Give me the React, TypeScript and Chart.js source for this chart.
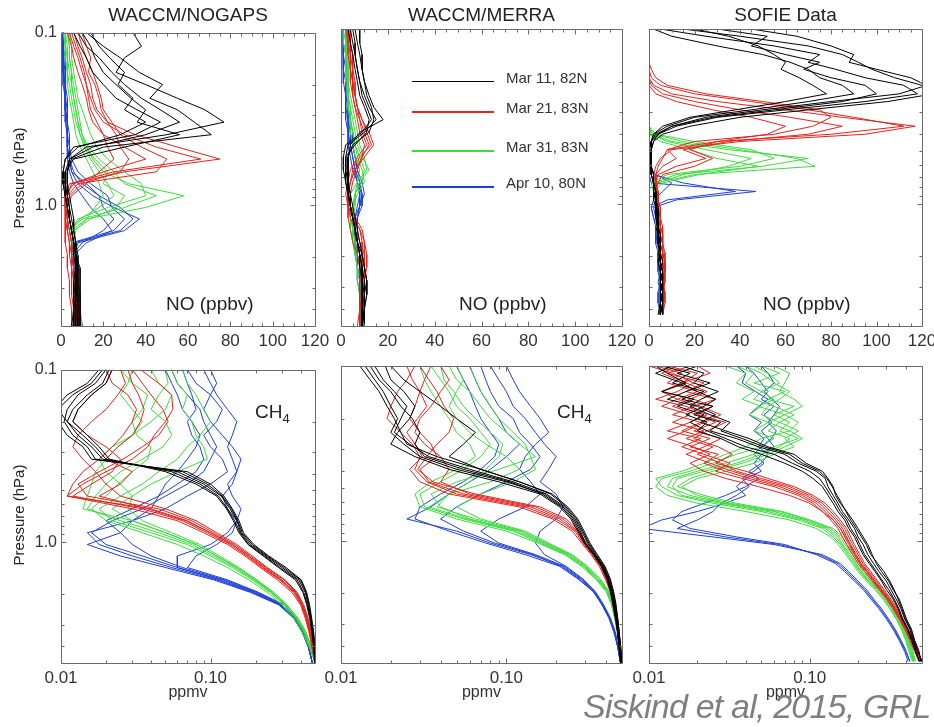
import React, { useEffect, useRef } from "react";
import { Chart, registerables } from "chart.js";

Chart.register(...registerables);

const FONT = "'Liberation Sans', Arial, Helvetica, sans-serif";

// ---------- pressure levels (hPa) ----------
const LEV_MODEL = [0.1, 0.12, 0.14, 0.17, 0.2, 0.24, 0.28, 0.33, 0.39, 0.46, 0.54, 0.64, 0.75, 0.88, 1.03, 1.2, 1.4, 1.65, 1.95, 2.3, 2.75, 3.3, 4.0, 5.0];
const LEV_SOFIE = [0.1, 0.11, 0.125, 0.14, 0.155, 0.17, 0.19, 0.21, 0.235, 0.26, 0.29, 0.32, 0.36, 0.4, 0.44, 0.49, 0.55, 0.61, 0.68, 0.76, 0.85, 0.95, 1.05, 1.2, 1.35, 1.5, 1.7, 1.9, 2.15, 2.45, 2.8, 3.2, 3.7, 4.3, 4.9];

// ---------- axis ticks ----------
const X_LIN_MAJOR = [0, 20, 40, 60, 80, 100, 120];
const X_LIN_MINOR = [5, 10, 15, 25, 30, 35, 45, 50, 55, 65, 70, 75, 85, 90, 95, 105, 110, 115];
const X_LOG_MAJOR = [0.01, 0.1];
const X_LOG_MINOR = [0.02, 0.03, 0.04, 0.05, 0.06, 0.07, 0.08, 0.09, 0.2, 0.3, 0.4];
const Y_MAJOR = [0.1, 1];
const Y_MINOR = [0.2, 0.3, 0.4, 0.5, 0.6, 0.7, 0.8, 0.9, 2, 3, 4];
const X_LIN_RANGE = [0, 120];
const X_LOG_RANGE = [0.01, 0.5];
const Y_RANGE = [0.1, 5];

const TITLES = ["WACCM/NOGAPS", "WACCM/MERRA", "SOFIE Data"];
const LEGEND_LABELS = ["Mar 11, 82N", "Mar 21, 83N", "Mar 31, 83N", "Apr 10, 80N"];
const COLORS = ["#000000", "#e3231c", "#3cdc3c", "#1e3ed6"];

// ---------- NO (ppbv), WACCM/NOGAPS ----------
const NO_NOGAPS_MAR11 = [
  [34, 38, 30, 26, 40, 55, 68, 77, 50, 12, 4, 2, 2, 3, 4, 5, 6, 7, 8, 8, 7, 7, 6, 6],
  [12, 20, 28, 37, 48, 42, 55, 63, 71, 20, 5, 3, 3, 4, 5, 6, 6, 7, 7, 7, 6, 6, 6, 5],
  [8, 12, 18, 24, 30, 38, 47, 56, 40, 15, 4, 3, 3, 3, 4, 4, 5, 6, 7, 7, 7, 6, 6, 6],
  [10, 14, 16, 20, 26, 33, 40, 36, 56, 30, 6, 2, 2, 2, 3, 4, 5, 6, 6, 7, 7, 7, 7, 7],
  [6, 9, 12, 15, 20, 26, 36, 47, 35, 6, 2, 1, 1, 2, 3, 4, 5, 6, 7, 8, 8, 8, 8, 8],
  [14, 18, 23, 30, 27, 34, 30, 40, 28, 8, 2, 1, 1, 2, 3, 4, 5, 6, 7, 9, 9, 9, 9, 9],
];
const NO_NOGAPS_MAR21 = [
  [6, 8, 10, 12, 14, 15, 17, 22, 35, 55, 75, 30, 5, 3, 3, 4, 5, 6, 7, 8, 8, 9, 9, 9],
  [4, 6, 8, 10, 12, 14, 16, 20, 30, 45, 66, 25, 4, 2, 2, 3, 4, 5, 6, 7, 7, 8, 8, 8],
  [8, 10, 12, 15, 17, 19, 20, 24, 28, 38, 50, 45, 8, 3, 3, 3, 4, 5, 5, 6, 6, 7, 7, 8],
  [3, 5, 6, 8, 10, 12, 13, 15, 20, 30, 40, 20, 6, 2, 2, 2, 3, 4, 5, 5, 6, 6, 6, 7],
  [10, 12, 14, 13, 16, 18, 19, 22, 26, 28, 32, 28, 10, 4, 3, 3, 3, 4, 4, 5, 5, 5, 6, 6],
  [5, 7, 9, 11, 12, 13, 14, 17, 20, 22, 25, 18, 12, 5, 3, 2, 2, 2, 3, 3, 4, 4, 5, 5],
];
const NO_NOGAPS_MAR31 = [
  [3, 4, 4, 5, 6, 7, 8, 9, 10, 12, 15, 20, 32, 58, 40, 12, 5, 6, 7, 8, 8, 9, 9, 9],
  [2, 3, 3, 4, 5, 6, 7, 8, 10, 13, 18, 25, 30, 45, 30, 10, 4, 5, 6, 7, 8, 8, 9, 9],
  [4, 5, 5, 6, 7, 8, 10, 12, 14, 17, 22, 30, 38, 40, 22, 8, 5, 6, 7, 7, 8, 8, 8, 8],
  [2, 2, 3, 3, 4, 5, 6, 7, 9, 12, 16, 22, 20, 30, 26, 14, 6, 5, 6, 7, 7, 8, 8, 8],
  [3, 4, 4, 5, 5, 6, 7, 8, 9, 11, 14, 18, 22, 25, 18, 9, 4, 5, 6, 7, 8, 8, 9, 10],
  [1, 2, 2, 3, 3, 4, 5, 6, 7, 9, 12, 15, 18, 20, 16, 12, 7, 6, 6, 7, 8, 8, 9, 10],
];
const NO_NOGAPS_APR10 = [
  [1, 1, 1, 2, 2, 2, 3, 3, 3, 4, 4, 5, 8, 15, 25, 37, 30, 8, 6, 7, 7, 8, 8, 8],
  [0, 1, 1, 1, 2, 2, 2, 3, 3, 3, 4, 6, 10, 18, 28, 34, 28, 6, 6, 6, 7, 7, 8, 8],
  [1, 1, 2, 2, 2, 3, 3, 3, 4, 4, 5, 8, 14, 22, 24, 30, 25, 5, 5, 6, 6, 7, 7, 7],
  [0, 0, 1, 1, 1, 2, 2, 2, 3, 3, 4, 5, 12, 18, 20, 25, 20, 10, 5, 6, 6, 7, 7, 8],
  [1, 1, 1, 1, 2, 2, 2, 3, 3, 3, 3, 4, 6, 10, 14, 20, 24, 12, 6, 6, 7, 7, 8, 8],
];

// ---------- NO (ppbv), WACCM/MERRA ----------
const NO_MERRA_MAR11 = [
  [6, 7, 8, 9, 10, 12, 14, 18, 8, 4, 3, 3, 3, 4, 4, 5, 6, 7, 8, 9, 10, 10, 10, 10],
  [4, 5, 6, 7, 8, 10, 12, 15, 10, 3, 2, 2, 3, 3, 4, 5, 6, 7, 8, 9, 9, 10, 10, 9],
  [8, 8, 9, 9, 10, 11, 13, 14, 12, 5, 3, 3, 3, 4, 5, 6, 7, 8, 9, 10, 11, 11, 10, 10],
  [3, 4, 5, 6, 7, 8, 10, 12, 11, 6, 2, 2, 2, 3, 4, 5, 6, 7, 8, 8, 9, 9, 9, 9],
  [5, 6, 6, 7, 8, 9, 11, 13, 9, 2, 1, 1, 2, 3, 4, 5, 6, 7, 9, 10, 11, 10, 10, 9],
];
const NO_MERRA_MAR21 = [
  [4, 4, 4, 5, 5, 6, 7, 9, 11, 13, 8, 5, 4, 3, 4, 6, 9, 10, 10, 10, 10, 10, 9, 9],
  [3, 3, 4, 4, 5, 5, 6, 8, 10, 12, 9, 6, 4, 3, 3, 5, 8, 10, 11, 11, 10, 10, 10, 9],
  [3, 4, 4, 4, 5, 6, 7, 8, 9, 11, 7, 4, 3, 2, 3, 5, 8, 9, 9, 9, 9, 9, 8, 8],
  [4, 4, 5, 5, 6, 6, 7, 9, 12, 14, 10, 6, 4, 3, 3, 4, 6, 8, 10, 10, 11, 11, 10, 10],
  [2, 3, 3, 4, 4, 5, 6, 7, 8, 10, 9, 7, 5, 4, 3, 3, 4, 5, 7, 8, 8, 8, 8, 7],
];
const NO_MERRA_MAR31 = [
  [2, 2, 2, 3, 3, 3, 4, 5, 6, 7, 9, 12, 8, 6, 5, 5, 6, 7, 8, 9, 10, 10, 10, 10],
  [1, 2, 2, 2, 3, 3, 4, 4, 5, 6, 8, 10, 9, 6, 5, 5, 5, 6, 7, 8, 9, 9, 9, 9],
  [2, 2, 3, 3, 3, 4, 5, 6, 7, 8, 10, 11, 7, 4, 4, 4, 5, 6, 6, 7, 8, 8, 9, 9],
  [1, 1, 2, 2, 2, 3, 3, 4, 5, 6, 7, 9, 10, 7, 5, 4, 4, 5, 6, 7, 8, 9, 10, 10],
  [2, 2, 2, 2, 3, 3, 3, 4, 4, 5, 6, 8, 7, 6, 6, 5, 5, 5, 6, 7, 7, 8, 8, 8],
];
const NO_MERRA_APR10 = [
  [1, 1, 2, 2, 2, 3, 3, 4, 4, 5, 6, 7, 9, 10, 8, 7, 6, 6, 7, 7, 8, 8, 8, 8],
  [1, 1, 1, 2, 2, 2, 3, 3, 4, 4, 5, 6, 8, 9, 9, 7, 6, 6, 6, 7, 7, 8, 8, 8],
  [2, 2, 2, 2, 3, 3, 3, 4, 5, 5, 6, 7, 8, 8, 7, 6, 6, 7, 7, 8, 8, 9, 9, 9],
  [1, 1, 1, 1, 2, 2, 2, 3, 3, 4, 5, 6, 7, 8, 8, 7, 7, 7, 7, 8, 8, 8, 9, 9],
  [0, 1, 1, 1, 1, 2, 2, 2, 3, 3, 4, 5, 7, 9, 8, 6, 6, 6, 7, 7, 8, 8, 8, 8],
];

// ---------- NO (ppbv), SOFIE ----------
const NO_SOFIE_MAR11 = [
  [15, 40, 70, 85, 92, 98, 108, 120, 125, 105, 70, 40, 18, 6, 2, 1, 1, 1, 2, 2, 2, 3, 3, 4, 4, 5, 4, 5, 5, 6, 5, 6, 5, 5],
  [5, 25, 55, 75, 70, 82, 95, 112, 118, 95, 60, 30, 12, 4, 1, 0, 1, 1, 1, 2, 2, 2, 3, 3, 4, 4, 5, 5, 4, 5, 6, 5, 5, 4],
  [30, 52, 45, 60, 75, 68, 80, 95, 100, 85, 55, 28, 10, 3, 1, 1, 0, 1, 1, 2, 3, 3, 3, 4, 3, 4, 4, 5, 5, 5, 6, 6, 5, 5],
  [2, 10, 30, 50, 62, 70, 75, 85, 90, 70, 45, 20, 8, 2, 1, 0, 0, 1, 2, 2, 2, 3, 4, 4, 4, 5, 5, 4, 5, 6, 6, 5, 6, 5],
  [45, 65, 80, 90, 88, 100, 115, 122, 110, 80, 50, 25, 10, 4, 2, 1, 1, 1, 1, 2, 2, 3, 3, 3, 4, 4, 5, 5, 6, 5, 5, 6, 6, 6],
  [20, 35, 48, 55, 60, 58, 66, 72, 78, 60, 38, 18, 6, 2, 1, 0, 1, 1, 1, 2, 3, 3, 3, 4, 4, 4, 4, 5, 5, 6, 5, 5, 6, 5],
];
const NO_SOFIE_MAR21 = [
  [0, 0, 0, 0, 0, 0, 0, 2, 10, 30, 60, 85, 117, 95, 40, 10, 5, 3, 2, 3, 3, 4, 4, 5, 5, 6, 5, 6, 6, 7, 6, 7, 6, 6],
  [0, 0, 0, 0, 0, 0, 1, 5, 20, 45, 70, 90, 112, 80, 30, 8, 6, 4, 3, 3, 4, 4, 5, 5, 5, 6, 6, 6, 7, 7, 6, 6, 6, 5],
  [0, 0, 0, 0, 0, 0, 0, 1, 6, 20, 40, 62, 85, 70, 35, 15, 25, 12, 4, 3, 3, 4, 4, 4, 5, 5, 6, 6, 6, 6, 7, 6, 6, 6],
  [0, 0, 0, 0, 0, 0, 0, 0, 3, 12, 28, 45, 60, 52, 30, 18, 28, 20, 6, 4, 3, 3, 4, 5, 5, 5, 5, 6, 7, 6, 6, 7, 7, 6],
  [0, 0, 0, 0, 0, 1, 3, 8, 25, 50, 75, 80, 72, 55, 20, 8, 12, 6, 3, 3, 4, 4, 5, 5, 6, 6, 6, 7, 7, 7, 7, 6, 6, 6],
];
const NO_SOFIE_MAR31 = [
  [0, 0, 0, 0, 0, 0, 0, 0, 0, 0, 0, 0, 0, 2, 15, 40, 65, 73, 20, 3, 2, 3, 3, 4, 4, 5, 5, 5, 6, 6, 6, 5, 6, 5],
  [0, 0, 0, 0, 0, 0, 0, 0, 0, 0, 0, 0, 0, 1, 10, 35, 70, 50, 12, 2, 2, 3, 3, 3, 4, 4, 5, 5, 5, 6, 5, 5, 5, 5],
  [0, 0, 0, 0, 0, 0, 0, 0, 0, 0, 0, 0, 0, 3, 20, 45, 55, 40, 8, 1, 2, 2, 3, 3, 4, 4, 4, 5, 5, 5, 6, 6, 5, 5],
  [0, 0, 0, 0, 0, 0, 0, 0, 0, 0, 0, 0, 0, 1, 8, 25, 45, 35, 15, 4, 2, 2, 3, 3, 3, 4, 4, 4, 5, 5, 5, 5, 5, 4],
  [0, 0, 0, 0, 0, 0, 0, 0, 0, 0, 0, 0, 0, 0, 5, 18, 30, 48, 22, 6, 2, 3, 3, 4, 4, 4, 5, 5, 5, 6, 6, 6, 6, 5],
];
const NO_SOFIE_APR10 = [
  [0, 0, 0, 0, 0, 0, 0, 0, 0, 0, 0, 0, 0, 0, 0, 0, 0, 0, 0, 1, 47, 12, 2, 3, 3, 4, 4, 4, 5, 5, 5, 5, 5, 5],
  [0, 0, 0, 0, 0, 0, 0, 0, 0, 0, 0, 0, 0, 0, 0, 0, 0, 0, 2, 15, 38, 8, 1, 2, 3, 3, 4, 4, 4, 5, 4, 5, 5, 5],
  [0, 0, 0, 0, 0, 0, 0, 0, 0, 0, 0, 0, 0, 0, 0, 0, 0, 0, 3, 10, 6, 2, 1, 2, 3, 3, 3, 4, 4, 4, 5, 4, 4, 5],
];

// ---------- CH4 (ppmv), WACCM/NOGAPS ----------
const CH4_NOGAPS_MAR11 = [
  [0.021, 0.019, 0.015, 0.012, 0.011, 0.013, 0.016, 0.019, 0.06, 0.09, 0.118, 0.135, 0.15, 0.16, 0.185, 0.235, 0.3, 0.39, 0.43, 0.45, 0.47, 0.48, 0.49, 0.5],
  [0.019, 0.016, 0.012, 0.0095, 0.011, 0.014, 0.017, 0.02, 0.055, 0.085, 0.113, 0.13, 0.145, 0.158, 0.18, 0.23, 0.29, 0.38, 0.42, 0.445, 0.465, 0.48, 0.49, 0.5],
  [0.02, 0.017, 0.013, 0.011, 0.0105, 0.012, 0.015, 0.017, 0.065, 0.095, 0.12, 0.138, 0.152, 0.163, 0.19, 0.24, 0.31, 0.4, 0.435, 0.455, 0.47, 0.485, 0.495, 0.5],
  [0.022, 0.02, 0.016, 0.013, 0.012, 0.015, 0.018, 0.021, 0.05, 0.08, 0.11, 0.128, 0.142, 0.155, 0.178, 0.225, 0.285, 0.37, 0.415, 0.44, 0.46, 0.475, 0.49, 0.5],
  [0.018, 0.015, 0.011, 0.009, 0.0095, 0.011, 0.014, 0.016, 0.07, 0.1, 0.123, 0.14, 0.155, 0.166, 0.195, 0.245, 0.32, 0.405, 0.44, 0.46, 0.475, 0.49, 0.5, 0.5],
];
const CH4_NOGAPS_MAR21 = [
  [0.034, 0.045, 0.055, 0.056, 0.05, 0.042, 0.038, 0.03, 0.02, 0.014, 0.011, 0.04, 0.07, 0.1, 0.14, 0.18, 0.23, 0.3, 0.37, 0.41, 0.44, 0.46, 0.48, 0.5],
  [0.022, 0.02, 0.016, 0.013, 0.012, 0.015, 0.02, 0.025, 0.022, 0.016, 0.012, 0.035, 0.065, 0.095, 0.135, 0.175, 0.22, 0.29, 0.36, 0.405, 0.435, 0.46, 0.48, 0.5],
  [0.03, 0.035, 0.04, 0.048, 0.052, 0.045, 0.035, 0.026, 0.018, 0.013, 0.015, 0.045, 0.075, 0.105, 0.145, 0.185, 0.235, 0.31, 0.375, 0.415, 0.445, 0.465, 0.485, 0.5],
  [0.025, 0.027, 0.024, 0.02, 0.016, 0.013, 0.012, 0.014, 0.017, 0.02, 0.025, 0.05, 0.08, 0.11, 0.15, 0.19, 0.24, 0.315, 0.38, 0.42, 0.45, 0.47, 0.485, 0.5],
  [0.02, 0.022, 0.028, 0.032, 0.03, 0.026, 0.022, 0.018, 0.014, 0.012, 0.011, 0.03, 0.06, 0.09, 0.13, 0.17, 0.215, 0.28, 0.35, 0.4, 0.43, 0.455, 0.475, 0.5],
  [0.028, 0.03, 0.033, 0.036, 0.034, 0.03, 0.024, 0.02, 0.03, 0.025, 0.018, 0.038, 0.068, 0.1, 0.14, 0.18, 0.225, 0.295, 0.365, 0.41, 0.44, 0.46, 0.48, 0.5],
];
const CH4_NOGAPS_MAR31 = [
  [0.05, 0.052, 0.045, 0.04, 0.05, 0.055, 0.048, 0.035, 0.025, 0.02, 0.017, 0.015, 0.025, 0.045, 0.075, 0.105, 0.145, 0.195, 0.255, 0.315, 0.375, 0.425, 0.465, 0.5],
  [0.03, 0.028, 0.025, 0.03, 0.035, 0.03, 0.024, 0.02, 0.017, 0.016, 0.015, 0.014, 0.03, 0.05, 0.08, 0.11, 0.15, 0.2, 0.26, 0.32, 0.38, 0.43, 0.47, 0.5],
  [0.065, 0.07, 0.08, 0.09, 0.1, 0.085, 0.07, 0.06, 0.045, 0.035, 0.025, 0.018, 0.022, 0.04, 0.07, 0.1, 0.14, 0.19, 0.25, 0.31, 0.37, 0.42, 0.46, 0.5],
  [0.04, 0.045, 0.055, 0.05, 0.04, 0.03, 0.022, 0.018, 0.02, 0.025, 0.03, 0.028, 0.035, 0.055, 0.085, 0.115, 0.155, 0.205, 0.265, 0.325, 0.385, 0.435, 0.47, 0.5],
  [0.025, 0.03, 0.038, 0.035, 0.03, 0.032, 0.04, 0.038, 0.03, 0.024, 0.02, 0.016, 0.02, 0.035, 0.06, 0.09, 0.13, 0.18, 0.24, 0.3, 0.36, 0.41, 0.455, 0.5],
  [0.055, 0.06, 0.07, 0.065, 0.075, 0.08, 0.09, 0.095, 0.06, 0.04, 0.03, 0.022, 0.03, 0.05, 0.08, 0.11, 0.15, 0.2, 0.26, 0.32, 0.38, 0.43, 0.47, 0.5],
];
const CH4_NOGAPS_APR10 = [
  [0.07, 0.08, 0.1, 0.12, 0.11, 0.09, 0.1, 0.12, 0.13, 0.1, 0.07, 0.05, 0.03, 0.015, 0.018, 0.03, 0.055, 0.11, 0.19, 0.29, 0.36, 0.41, 0.45, 0.48],
  [0.055, 0.06, 0.07, 0.085, 0.09, 0.1, 0.11, 0.1, 0.09, 0.07, 0.05, 0.035, 0.022, 0.016, 0.02, 0.035, 0.06, 0.12, 0.2, 0.3, 0.37, 0.42, 0.455, 0.48],
  [0.09, 0.1, 0.11, 0.13, 0.15, 0.14, 0.13, 0.14, 0.15, 0.14, 0.12, 0.13, 0.15, 0.14, 0.11, 0.08, 0.07, 0.13, 0.21, 0.31, 0.375, 0.42, 0.455, 0.48],
  [0.065, 0.07, 0.075, 0.08, 0.07, 0.075, 0.085, 0.09, 0.08, 0.06, 0.045, 0.03, 0.02, 0.025, 0.03, 0.04, 0.065, 0.125, 0.205, 0.3, 0.37, 0.415, 0.45, 0.48],
  [0.1, 0.11, 0.1, 0.09, 0.1, 0.12, 0.14, 0.16, 0.15, 0.13, 0.14, 0.16, 0.15, 0.13, 0.1, 0.06, 0.06, 0.115, 0.195, 0.295, 0.365, 0.41, 0.45, 0.48],
  [0.05, 0.055, 0.06, 0.065, 0.075, 0.085, 0.08, 0.07, 0.06, 0.05, 0.045, 0.04, 0.03, 0.025, 0.015, 0.025, 0.05, 0.105, 0.185, 0.285, 0.36, 0.41, 0.45, 0.48],
];

// ---------- CH4 (ppmv), WACCM/MERRA ----------
const CH4_MERRA_MAR11 = [
  [0.014, 0.016, 0.018, 0.02, 0.022, 0.02, 0.024, 0.03, 0.05, 0.1, 0.17, 0.22, 0.255, 0.28, 0.3, 0.34, 0.38, 0.41, 0.43, 0.445, 0.46, 0.47, 0.48, 0.49],
  [0.016, 0.018, 0.021, 0.025, 0.023, 0.021, 0.026, 0.034, 0.06, 0.11, 0.175, 0.225, 0.26, 0.285, 0.31, 0.345, 0.385, 0.415, 0.435, 0.45, 0.465, 0.475, 0.485, 0.495],
  [0.0185, 0.02, 0.024, 0.028, 0.026, 0.022, 0.02, 0.028, 0.045, 0.09, 0.16, 0.21, 0.245, 0.27, 0.295, 0.335, 0.375, 0.405, 0.425, 0.44, 0.455, 0.47, 0.48, 0.49],
  [0.013, 0.015, 0.017, 0.019, 0.021, 0.023, 0.025, 0.038, 0.07, 0.12, 0.185, 0.23, 0.265, 0.29, 0.315, 0.35, 0.39, 0.42, 0.44, 0.455, 0.47, 0.48, 0.49, 0.5],
  [0.015, 0.017, 0.02, 0.023, 0.027, 0.03, 0.028, 0.032, 0.055, 0.105, 0.165, 0.215, 0.25, 0.275, 0.3, 0.34, 0.38, 0.41, 0.43, 0.445, 0.46, 0.47, 0.48, 0.49],
  [0.02, 0.024, 0.03, 0.04, 0.05, 0.065, 0.055, 0.045, 0.07, 0.12, 0.19, 0.235, 0.27, 0.295, 0.32, 0.355, 0.395, 0.425, 0.445, 0.46, 0.47, 0.48, 0.49, 0.5],
];
const CH4_MERRA_MAR21 = [
  [0.028, 0.025, 0.022, 0.02, 0.019, 0.023, 0.027, 0.03, 0.028, 0.033, 0.05, 0.13, 0.2, 0.26, 0.29, 0.33, 0.37, 0.4, 0.43, 0.445, 0.46, 0.47, 0.48, 0.49],
  [0.035, 0.032, 0.03, 0.028, 0.026, 0.03, 0.035, 0.038, 0.03, 0.034, 0.055, 0.14, 0.21, 0.265, 0.295, 0.335, 0.375, 0.405, 0.435, 0.45, 0.465, 0.475, 0.485, 0.495],
  [0.04, 0.045, 0.04, 0.035, 0.03, 0.028, 0.032, 0.04, 0.045, 0.04, 0.06, 0.15, 0.22, 0.27, 0.3, 0.34, 0.38, 0.41, 0.44, 0.455, 0.47, 0.48, 0.49, 0.5],
  [0.025, 0.027, 0.03, 0.033, 0.029, 0.025, 0.028, 0.031, 0.026, 0.03, 0.045, 0.12, 0.19, 0.25, 0.285, 0.325, 0.365, 0.395, 0.425, 0.44, 0.455, 0.47, 0.48, 0.49],
  [0.03, 0.034, 0.038, 0.042, 0.048, 0.045, 0.038, 0.033, 0.029, 0.036, 0.065, 0.16, 0.23, 0.275, 0.305, 0.345, 0.385, 0.415, 0.44, 0.455, 0.465, 0.475, 0.485, 0.495],
];
const CH4_MERRA_MAR31 = [
  [0.045, 0.05, 0.06, 0.07, 0.08, 0.1, 0.12, 0.15, 0.09, 0.05, 0.035, 0.04, 0.06, 0.12, 0.17, 0.24, 0.3, 0.36, 0.41, 0.44, 0.46, 0.47, 0.48, 0.49],
  [0.035, 0.04, 0.045, 0.05, 0.06, 0.07, 0.08, 0.07, 0.055, 0.04, 0.03, 0.032, 0.055, 0.11, 0.16, 0.23, 0.29, 0.35, 0.405, 0.435, 0.455, 0.47, 0.48, 0.49],
  [0.05, 0.055, 0.05, 0.045, 0.05, 0.06, 0.075, 0.1, 0.12, 0.08, 0.045, 0.038, 0.065, 0.125, 0.175, 0.245, 0.305, 0.365, 0.415, 0.445, 0.46, 0.475, 0.485, 0.495],
  [0.03, 0.032, 0.035, 0.04, 0.045, 0.05, 0.06, 0.065, 0.05, 0.035, 0.028, 0.03, 0.05, 0.1, 0.155, 0.225, 0.285, 0.345, 0.4, 0.43, 0.45, 0.465, 0.48, 0.49],
  [0.06, 0.065, 0.07, 0.08, 0.09, 0.11, 0.13, 0.14, 0.15, 0.11, 0.07, 0.05, 0.07, 0.13, 0.18, 0.25, 0.31, 0.37, 0.42, 0.445, 0.465, 0.475, 0.485, 0.495],
  [0.04, 0.042, 0.048, 0.055, 0.065, 0.08, 0.095, 0.09, 0.075, 0.06, 0.045, 0.034, 0.058, 0.115, 0.165, 0.235, 0.295, 0.355, 0.41, 0.44, 0.455, 0.47, 0.48, 0.49],
];
const CH4_MERRA_APR10 = [
  [0.06, 0.065, 0.07, 0.08, 0.09, 0.1, 0.12, 0.1, 0.08, 0.06, 0.045, 0.035, 0.025, 0.05, 0.08, 0.14, 0.22, 0.28, 0.34, 0.38, 0.42, 0.45, 0.47, 0.49],
  [0.08, 0.09, 0.1, 0.11, 0.13, 0.15, 0.17, 0.2, 0.18, 0.16, 0.2, 0.22, 0.2, 0.16, 0.15, 0.17, 0.23, 0.29, 0.345, 0.385, 0.425, 0.455, 0.475, 0.49],
  [0.05, 0.055, 0.06, 0.065, 0.07, 0.08, 0.09, 0.085, 0.07, 0.055, 0.04, 0.03, 0.028, 0.045, 0.075, 0.13, 0.21, 0.27, 0.335, 0.375, 0.415, 0.445, 0.47, 0.49],
  [0.1, 0.11, 0.12, 0.14, 0.16, 0.18, 0.15, 0.13, 0.12, 0.14, 0.16, 0.13, 0.09, 0.07, 0.09, 0.15, 0.225, 0.285, 0.34, 0.38, 0.42, 0.45, 0.47, 0.49],
  [0.07, 0.075, 0.08, 0.09, 0.11, 0.12, 0.14, 0.16, 0.14, 0.1, 0.07, 0.05, 0.04, 0.055, 0.085, 0.145, 0.215, 0.275, 0.335, 0.38, 0.42, 0.45, 0.47, 0.49],
];

// ---------- CH4 (ppmv), SOFIE ----------
const CH4_SOFIE_MAR11 = [
  [0.012, 0.018, 0.014, 0.022, 0.016, 0.025, 0.019, 0.028, 0.024, 0.035, 0.048, 0.07, 0.085, 0.11, 0.125, 0.13, 0.14, 0.15, 0.16, 0.175, 0.19, 0.2, 0.215, 0.23, 0.25, 0.27, 0.3, 0.32, 0.345, 0.37, 0.39, 0.42, 0.44, 0.47, 0.5],
  [0.02, 0.015, 0.024, 0.017, 0.013, 0.02, 0.026, 0.021, 0.03, 0.042, 0.055, 0.08, 0.095, 0.12, 0.13, 0.14, 0.145, 0.155, 0.17, 0.185, 0.2, 0.215, 0.23, 0.245, 0.26, 0.28, 0.31, 0.33, 0.36, 0.38, 0.4, 0.43, 0.45, 0.48, 0.49],
  [0.011, 0.013, 0.017, 0.012, 0.019, 0.015, 0.022, 0.018, 0.023, 0.03, 0.04, 0.06, 0.078, 0.1, 0.115, 0.125, 0.135, 0.145, 0.155, 0.17, 0.18, 0.195, 0.205, 0.22, 0.24, 0.26, 0.285, 0.31, 0.335, 0.36, 0.38, 0.41, 0.435, 0.46, 0.48],
  [0.016, 0.022, 0.019, 0.027, 0.021, 0.018, 0.024, 0.032, 0.028, 0.038, 0.052, 0.075, 0.09, 0.115, 0.128, 0.138, 0.148, 0.158, 0.168, 0.18, 0.195, 0.21, 0.225, 0.24, 0.265, 0.29, 0.315, 0.335, 0.355, 0.375, 0.395, 0.425, 0.445, 0.475, 0.5],
  [0.014, 0.011, 0.016, 0.02, 0.026, 0.022, 0.017, 0.023, 0.02, 0.028, 0.036, 0.05, 0.07, 0.09, 0.105, 0.12, 0.13, 0.14, 0.15, 0.165, 0.175, 0.19, 0.2, 0.215, 0.235, 0.255, 0.28, 0.3, 0.33, 0.355, 0.375, 0.405, 0.43, 0.455, 0.48],
];
const CH4_SOFIE_MAR21 = [
  [0.011, 0.016, 0.013, 0.02, 0.015, 0.012, 0.018, 0.014, 0.022, 0.017, 0.025, 0.02, 0.028, 0.035, 0.05, 0.075, 0.1, 0.12, 0.135, 0.15, 0.165, 0.175, 0.185, 0.2, 0.215, 0.235, 0.26, 0.285, 0.315, 0.345, 0.375, 0.405, 0.435, 0.465, 0.49],
  [0.018, 0.013, 0.022, 0.017, 0.026, 0.019, 0.014, 0.021, 0.016, 0.024, 0.018, 0.027, 0.022, 0.03, 0.042, 0.065, 0.09, 0.11, 0.125, 0.14, 0.155, 0.165, 0.175, 0.19, 0.205, 0.225, 0.25, 0.275, 0.305, 0.335, 0.365, 0.395, 0.425, 0.455, 0.485],
  [0.013, 0.02, 0.016, 0.012, 0.019, 0.025, 0.02, 0.03, 0.023, 0.019, 0.027, 0.033, 0.026, 0.04, 0.055, 0.08, 0.105, 0.125, 0.14, 0.155, 0.17, 0.18, 0.19, 0.205, 0.22, 0.24, 0.265, 0.29, 0.32, 0.35, 0.38, 0.41, 0.44, 0.47, 0.5],
  [0.01, 0.014, 0.019, 0.015, 0.011, 0.017, 0.023, 0.018, 0.013, 0.021, 0.016, 0.022, 0.032, 0.026, 0.038, 0.06, 0.085, 0.105, 0.12, 0.135, 0.15, 0.16, 0.17, 0.185, 0.2, 0.22, 0.245, 0.27, 0.3, 0.33, 0.36, 0.39, 0.42, 0.45, 0.48],
  [0.015, 0.012, 0.017, 0.023, 0.018, 0.014, 0.02, 0.026, 0.019, 0.028, 0.022, 0.017, 0.024, 0.033, 0.046, 0.07, 0.095, 0.115, 0.13, 0.145, 0.16, 0.17, 0.18, 0.195, 0.21, 0.23, 0.255, 0.28, 0.31, 0.34, 0.37, 0.4, 0.43, 0.46, 0.495],
  [0.02, 0.024, 0.016, 0.012, 0.015, 0.021, 0.028, 0.022, 0.017, 0.013, 0.019, 0.024, 0.018, 0.022, 0.03, 0.048, 0.075, 0.1, 0.12, 0.14, 0.155, 0.168, 0.178, 0.192, 0.208, 0.228, 0.252, 0.278, 0.308, 0.338, 0.368, 0.398, 0.428, 0.458, 0.49],
];
const CH4_SOFIE_MAR31 = [
  [0.05, 0.065, 0.045, 0.07, 0.055, 0.08, 0.06, 0.075, 0.065, 0.085, 0.06, 0.045, 0.03, 0.02, 0.014, 0.013, 0.018, 0.03, 0.06, 0.095, 0.13, 0.15, 0.16, 0.18, 0.195, 0.21, 0.235, 0.27, 0.3, 0.33, 0.36, 0.385, 0.41, 0.43, 0.445],
  [0.035, 0.045, 0.04, 0.05, 0.06, 0.048, 0.07, 0.055, 0.075, 0.05, 0.04, 0.03, 0.022, 0.016, 0.011, 0.012, 0.015, 0.025, 0.05, 0.085, 0.12, 0.14, 0.155, 0.172, 0.188, 0.205, 0.23, 0.26, 0.29, 0.32, 0.35, 0.375, 0.4, 0.42, 0.44],
  [0.06, 0.075, 0.07, 0.065, 0.08, 0.09, 0.07, 0.085, 0.075, 0.09, 0.07, 0.055, 0.038, 0.025, 0.018, 0.015, 0.022, 0.035, 0.068, 0.1, 0.135, 0.155, 0.165, 0.185, 0.2, 0.215, 0.24, 0.275, 0.305, 0.335, 0.365, 0.39, 0.415, 0.435, 0.45],
  [0.03, 0.04, 0.035, 0.045, 0.038, 0.05, 0.042, 0.055, 0.045, 0.06, 0.05, 0.035, 0.025, 0.018, 0.012, 0.011, 0.013, 0.02, 0.04, 0.075, 0.11, 0.135, 0.15, 0.168, 0.184, 0.2, 0.225, 0.255, 0.285, 0.315, 0.345, 0.37, 0.395, 0.415, 0.435],
  [0.045, 0.055, 0.065, 0.05, 0.045, 0.06, 0.08, 0.065, 0.085, 0.07, 0.08, 0.06, 0.045, 0.03, 0.02, 0.016, 0.02, 0.032, 0.065, 0.1, 0.14, 0.16, 0.17, 0.19, 0.205, 0.22, 0.245, 0.28, 0.31, 0.34, 0.37, 0.395, 0.42, 0.44, 0.455],
  [0.04, 0.05, 0.06, 0.075, 0.065, 0.055, 0.05, 0.065, 0.055, 0.075, 0.065, 0.05, 0.035, 0.022, 0.015, 0.014, 0.016, 0.028, 0.055, 0.09, 0.125, 0.145, 0.158, 0.176, 0.192, 0.208, 0.232, 0.265, 0.295, 0.325, 0.355, 0.38, 0.405, 0.425, 0.445],
];
const CH4_SOFIE_APR10 = [
  [0.04, 0.045, 0.05, 0.055, 0.05, 0.06, 0.052, 0.058, 0.05, 0.055, 0.06, 0.05, 0.045, 0.05, 0.04, 0.035, 0.04, 0.03, 0.02, 0.012, 0.009, 0.025, 0.06, 0.12, 0.155, 0.175, 0.2, 0.225, 0.25, 0.28, 0.31, 0.34, 0.37, 0.4, 0.42],
  [0.035, 0.04, 0.038, 0.046, 0.055, 0.048, 0.042, 0.05, 0.045, 0.052, 0.048, 0.055, 0.05, 0.042, 0.048, 0.04, 0.03, 0.022, 0.016, 0.014, 0.018, 0.035, 0.07, 0.11, 0.145, 0.165, 0.19, 0.215, 0.24, 0.27, 0.3, 0.33, 0.36, 0.39, 0.41],
  [0.05, 0.055, 0.06, 0.052, 0.058, 0.065, 0.06, 0.055, 0.062, 0.058, 0.05, 0.045, 0.052, 0.045, 0.038, 0.042, 0.035, 0.028, 0.025, 0.02, 0.015, 0.03, 0.065, 0.115, 0.15, 0.17, 0.195, 0.22, 0.245, 0.275, 0.305, 0.335, 0.365, 0.395, 0.42],
];

// ---------- layout ----------
const COL_X = [[61, 315], [341, 622], [649, 922]];
const ROW_Y = [[29, 326], [366, 663]];
const PAD_L = 55;
const PAD_R = 22;
const PAD_T = 10;
const PAD_B = 32;
const FRAME_COLOR = "#6a6a6a";
const TICK_COLOR = "#333333";

type PanelProps = {
  col: number;
  row: number;
  xLog: boolean;
  showY: boolean;
  levels: number[];
  groups: number[][][];
};

function Panel({ col, row, xLog, showY, levels, groups }: PanelProps) {
  const ref = useRef<HTMLCanvasElement>(null);
  const [x0, x1] = COL_X[col];
  const [y0, y1] = ROW_Y[row];
  const w = x1 - x0 + PAD_L + PAD_R;
  const h = y1 - y0 + PAD_T + PAD_B;

  useEffect(() => {
    const datasets: any[] = [];
    groups.forEach((rows, gi) => {
      rows.forEach((vals) => {
        datasets.push({
          data: vals.filter((_, i) => i < levels.length).map((v, i) => ({ x: v, y: levels[i] })),
          showLine: true,
          borderColor: COLORS[gi],
          backgroundColor: COLORS[gi],
          borderWidth: 1,
          pointRadius: 0,
          pointHoverRadius: 0,
          tension: 0,
          fill: false,
        });
      });
    });
    const xMaj = xLog ? X_LOG_MAJOR : X_LIN_MAJOR;
    const xMin = xLog ? X_LOG_MINOR : X_LIN_MINOR;
    const frame = {
      id: "frame",
      afterDatasetsDraw(chart: any) {
        const { ctx, chartArea: a } = chart;
        const xs = chart.scales.x;
        const ys = chart.scales.y;
        const L = Math.round(a.left) + 0.5;
        const R = Math.round(a.right) + 0.5;
        const T = Math.round(a.top) + 0.5;
        const B = Math.round(a.bottom) + 0.5;
        ctx.save();
        ctx.strokeStyle = FRAME_COLOR;
        ctx.lineWidth = 1;
        ctx.beginPath();
        ctx.rect(L, T, R - L, B - T);
        const xt = (vals: number[], len: number) => {
          vals.forEach((v) => {
            const p = Math.round(xs.getPixelForValue(v)) + 0.5;
            ctx.moveTo(p, B);
            ctx.lineTo(p, B - len);
            ctx.moveTo(p, T);
            ctx.lineTo(p, T + len);
          });
        };
        const yt = (vals: number[], len: number) => {
          vals.forEach((v) => {
            const p = Math.round(ys.getPixelForValue(v)) + 0.5;
            ctx.moveTo(L, p);
            ctx.lineTo(L + len, p);
            ctx.moveTo(R, p);
            ctx.lineTo(R - len, p);
          });
        };
        xt(xMaj, 5);
        xt(xMin, 3);
        yt(Y_MAJOR, 5);
        yt(Y_MINOR, 3);
        ctx.stroke();
        ctx.restore();
      },
    };
    const chart = new Chart(ref.current as HTMLCanvasElement, {
      type: "scatter",
      data: { datasets },
      options: {
        animation: false,
        responsive: false,
        devicePixelRatio: 1,
        events: [],
        layout: { padding: { left: 0, right: PAD_R, top: PAD_T, bottom: 0 } },
        plugins: { legend: { display: false }, tooltip: { enabled: false }, title: { display: false } },
        scales: {
          x: {
            type: xLog ? "logarithmic" : "linear",
            position: "bottom",
            min: xLog ? X_LOG_RANGE[0] : X_LIN_RANGE[0],
            max: xLog ? X_LOG_RANGE[1] : X_LIN_RANGE[1],
            grid: { display: false, drawTicks: false },
            border: { display: false },
            ticks: {
              autoSkip: false,
              maxRotation: 0,
              padding: 5,
              color: TICK_COLOR,
              font: { family: FONT, size: 17 },
              stepSize: 20,
              callback: (v: any) => (xLog ? Number(v).toFixed(2) : String(v)),
            },
            afterBuildTicks: (s: any) => {
              s.ticks = xMaj.map((v) => ({ value: v }));
            },
            afterFit: (s: any) => {
              s.height = PAD_B;
            },
          },
          y: {
            type: "logarithmic",
            position: "left",
            reverse: true,
            min: Y_RANGE[0],
            max: Y_RANGE[1],
            grid: { display: false, drawTicks: false },
            border: { display: false },
            ticks: {
              display: showY,
              autoSkip: false,
              padding: 4,
              color: TICK_COLOR,
              font: { family: FONT, size: 16 },
              callback: (v: any) => Number(v).toFixed(1),
            },
            afterBuildTicks: (s: any) => {
              s.ticks = Y_MAJOR.map((v) => ({ value: v }));
            },
            afterFit: (s: any) => {
              s.width = PAD_L;
            },
          },
        },
      } as any,
      plugins: [frame],
    });
    return () => chart.destroy();
  }, []);

  return (
    <canvas
      ref={ref}
      width={w}
      height={h}
      style={{ position: "absolute", left: x0 - PAD_L, top: y0 - PAD_T, width: w, height: h }}
    />
  );
}

const abs = (extra: React.CSSProperties): React.CSSProperties => ({
  position: "absolute",
  whiteSpace: "nowrap",
  lineHeight: 1,
  fontFamily: FONT,
  ...extra,
});

export default function App() {
  const centers = COL_X.map(([a, b]) => (a + b) / 2);
  const legendY = [81, 111, 150, 186];
  return (
    <div style={{ position: "absolute", left: 0, top: 0, width: 934, height: 727, background: "#ffffff", overflow: "hidden" }}>
      <Panel col={0} row={0} xLog={false} showY levels={LEV_MODEL} groups={[NO_NOGAPS_MAR11, NO_NOGAPS_MAR21, NO_NOGAPS_MAR31, NO_NOGAPS_APR10]} />
      <Panel col={1} row={0} xLog={false} showY={false} levels={LEV_MODEL} groups={[NO_MERRA_MAR11, NO_MERRA_MAR21, NO_MERRA_MAR31, NO_MERRA_APR10]} />
      <Panel col={2} row={0} xLog={false} showY={false} levels={LEV_SOFIE} groups={[NO_SOFIE_MAR11, NO_SOFIE_MAR21, NO_SOFIE_MAR31, NO_SOFIE_APR10]} />
      <Panel col={0} row={1} xLog showY levels={LEV_MODEL} groups={[CH4_NOGAPS_MAR11, CH4_NOGAPS_MAR21, CH4_NOGAPS_MAR31, CH4_NOGAPS_APR10]} />
      <Panel col={1} row={1} xLog showY={false} levels={LEV_MODEL} groups={[CH4_MERRA_MAR11, CH4_MERRA_MAR21, CH4_MERRA_MAR31, CH4_MERRA_APR10]} />
      <Panel col={2} row={1} xLog showY={false} levels={LEV_SOFIE} groups={[CH4_SOFIE_MAR11, CH4_SOFIE_MAR21, CH4_SOFIE_MAR31, CH4_SOFIE_APR10]} />

      {TITLES.map((t, i) => (
        <div key={t} style={abs({ left: centers[i] - 120, width: 240, top: 5, textAlign: "center", fontSize: 19, color: "#222" })}>{t}</div>
      ))}

      {[166, 459, 763].map((x, i) => (
        <div key={"no" + i} style={abs({ left: x, top: 294, fontSize: 19, color: "#222" })}>NO (ppbv)</div>
      ))}

      {[255, 557].map((x, i) => (
        <div key={"ch4" + i} style={abs({ left: x, top: 402, fontSize: 19, color: "#222" })}>
          CH<span style={{ fontSize: 13, position: "relative", top: 5 }}>4</span>
        </div>
      ))}

      {centers.map((c, i) => (
        <div key={"ppmv" + i} style={abs({ left: c - 40, width: 80, top: 684, textAlign: "center", fontSize: 16, color: "#333" })}>ppmv</div>
      ))}

      {[178, 515].map((y, i) => (
        <div key={"pr" + i} style={abs({ left: 18, top: y, fontSize: 15, color: "#222", transform: "translate(-50%, -50%) rotate(-90deg)" })}>Pressure (hPa)</div>
      ))}

      {LEGEND_LABELS.map((t, i) => (
        <React.Fragment key={t}>
          <div style={{ position: "absolute", left: 412, top: legendY[i], width: 82, height: i === 0 ? 1 : 2, background: COLORS[i] }} />
          <div style={abs({ left: 506, top: legendY[i] - 11, fontSize: 15, color: "#333" })}>{t}</div>
        </React.Fragment>
      ))}

      <div style={abs({ left: 583, top: 689, fontSize: 34, fontStyle: "italic", letterSpacing: -0.8, color: "#7f7f7f" })}>Siskind et al, 2015, GRL</div>
    </div>
  );
}
